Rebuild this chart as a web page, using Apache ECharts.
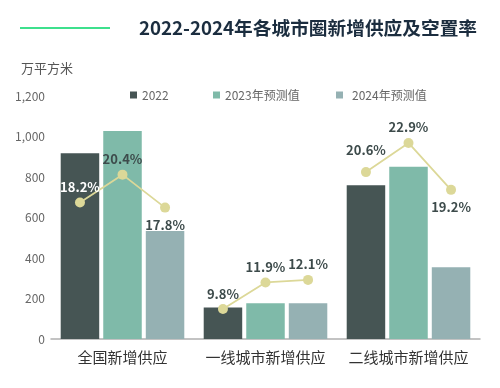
<!DOCTYPE html>
<html><head><meta charset="utf-8">
<script src="https://cdn.jsdelivr.net/npm/echarts@6/dist/echarts.min.js"></script>
<style>html,body{margin:0;padding:0;background:#fff}#c{width:500px;height:388px}</style>
</head><body><div id="c"></div>
<script>
const categories = ['全国新增供应', '一线城市新增供应', '二线城市新增供应'];
const seriesNames = ['2022', '2023年预测值', '2024年预测值'];
const supply2022 = [917, 155, 759];
const supply2023 = [1027, 176, 851];
const supply2024 = [533, 176, 354];
const vacancy2022 = [18.2, 9.8, 20.6];
const vacancy2023 = [20.4, 11.9, 22.9];
const vacancy2024 = [17.8, 12.1, 19.2];
const yTicks = [0, 200, 400, 600, 800, 1000, 1200];

const FONT = '"Noto Sans CJK SC", "Noto Sans", sans-serif';
const colors = ['#465554', '#7fbaa9', '#95b1b3'];
const lineColor = '#dcd898';
const gridLeft = 51, gridRight = 20, W = 500;
const barWidth = 38.5, barGapRatio = 0.105;
const catWidth = (W - gridLeft - gridRight) / categories.length;
const slot = barWidth * (1 + barGapRatio) / catWidth;
const offsets = [-slot, 0, slot];

const supplies = [supply2022, supply2023, supply2024];
const vacancies = [vacancy2022, vacancy2023, vacancy2024];

const barSeries = seriesNames.map((n, i) => ({
  name: n, type: 'bar', data: supplies[i], barWidth: barWidth, barGap: (barGapRatio * 100) + '%',
  itemStyle: { color: colors[i] }, z: 2
}));

const labelPos = { '17.8': ['bottom', 6], '19.2': ['bottom', 6], '20.6': ['top', 11] };
const labelWhite = { '18.2': true };
const lineSeries = categories.map((c, g) => ({
  type: 'line', xAxisIndex: 1, yAxisIndex: 1, z: 5,
  symbol: 'circle', symbolSize: 10,
  lineStyle: { color: lineColor, width: 1.8 },
  itemStyle: { color: lineColor },
  labelLayout: { hideOverlap: false },
  data: vacancies.map((arr, j) => {
    const v = arr[g];
    const key = v.toFixed(1);
    const p = labelPos[key] || ['top', 4];
    const lab = { position: p[0], distance: p[1] };
    if (labelWhite[key]) lab.color = '#ffffff';
    return { value: [g + offsets[j], v], label: lab };
  }),
  label: { show: true, formatter: (p) => p.value[1].toFixed(1) + '%',
    fontFamily: FONT, fontSize: 13, fontWeight: 'bold', color: '#3d4b4b' }
}));

const legendText = { color: '#666', fontSize: 12, fontFamily: FONT };
const chart = echarts.init(document.getElementById('c'));
chart.setOption({
  animation: false,
  textStyle: { fontFamily: FONT },
  title: { text: '2022-2024年各城市圈新增供应及空置率', left: 134, top: 14,
    textStyle: { fontSize: 18.7, fontWeight: 'bold', color: '#1b2d3f', fontFamily: FONT } },
  graphic: [
    { type: 'line', shape: { x1: 20, y1: 28, x2: 110, y2: 28 }, style: { stroke: '#3ee08d', lineWidth: 2 } },
    { type: 'text', left: 21, top: 62, style: { text: '万平方米', fontSize: 13, fill: '#555', fontFamily: FONT } }
  ],
  legend: [
    { data: [seriesNames[0]], left: 125, top: 84, itemWidth: 7, itemHeight: 7, itemGap: 4, icon: 'rect', textStyle: legendText },
    { data: [seriesNames[1]], left: 208, top: 84, itemWidth: 7, itemHeight: 7, icon: 'rect', textStyle: legendText },
    { data: [seriesNames[2]], left: 331, top: 84, itemWidth: 7, itemHeight: 7, icon: 'rect', textStyle: Object.assign({}, legendText, { padding: [0, 0, 0, 4] }) }
  ],
  grid: { left: gridLeft, right: gridRight, top: 96, bottom: 49 },
  xAxis: [
    { type: 'category', data: categories,
      axisLine: { lineStyle: { color: '#b0b0b0', width: 1.5 } }, axisTick: { show: false },
      axisLabel: { interval: 0, fontSize: 15, color: '#333', margin: 11, fontFamily: FONT } },
    { type: 'value', min: -0.5, max: categories.length - 0.5, show: false }
  ],
  yAxis: [
    { type: 'value', min: yTicks[0], max: yTicks[yTicks.length - 1], interval: yTicks[1] - yTicks[0],
      splitLine: { show: false }, axisLine: { show: false }, axisTick: { show: false },
      axisLabel: { fontSize: 12, color: '#666', margin: 6, fontFamily: FONT,
        formatter: (v) => v.toLocaleString('en-US') } },
    { type: 'value', min: 7.44, max: 26.6, show: false, splitLine: { show: false } }
  ],
  series: barSeries.concat(lineSeries)
});
</script></body></html>
